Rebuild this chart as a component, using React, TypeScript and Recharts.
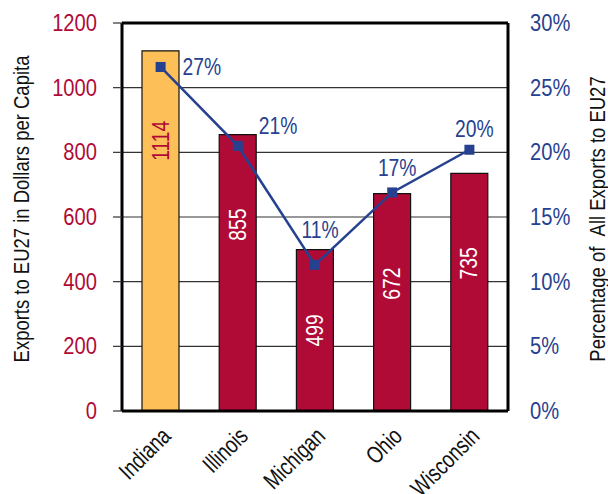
import { ComposedChart, Bar, Line, XAxis, YAxis, CartesianGrid, ReferenceLine, LabelList, Cell } from "recharts";

const states = ["Indiana", "Illinois", "Michigan", "Ohio", "Wisconsin"];
const perCapita = [1114, 855, 499, 672, 735];
const shareOfExports = [26.6, 20.5, 11.3, 16.9, 20.2];
const leftTicks = [0, 200, 400, 600, 800, 1000, 1200];
const rightTicks = [0, 5, 10, 15, 20, 25, 30];

const data = states.map((state, i) => ({ state, perCapita: perCapita[i], share: shareOfExports[i] }));

const FONT = "'Liberation Sans', Arial, sans-serif";
const SQUEEZE = 0.84;
const CRIMSON = "#B00A37";
const GOLD = "#FDBF57";
const BLUE = "#26418F";

// narrow text: Liberation Sans squeezed horizontally to look like the condensed face of the original
const NarrowText = ({ x, y, angle = 0, anchor = "middle", size, fill, squeeze = SQUEEZE, children }: any) => (
  <g transform={`translate(${x}, ${y}) rotate(${angle}) scale(${squeeze}, 1)`}>
    <text x={0} y={0} textAnchor={anchor} dominantBaseline="central" fontFamily={FONT} fontSize={size} fill={fill}>
      {children}
    </text>
  </g>
);

const CategoryTick = ({ x, y, payload }: any) => (
  <NarrowText x={x + 6} y={y + 13} angle={-45} anchor="end" size={24} squeeze={0.78} fill="#111">
    {payload.value}
  </NarrowText>
);

const LeftTick = ({ x, y, payload }: any) => (
  <NarrowText x={x} y={y} anchor="end" size={24} fill={CRIMSON}>
    {payload.value}
  </NarrowText>
);

const RightTick = ({ x, y, payload }: any) => (
  <NarrowText x={x} y={y} anchor="start" size={24} fill={BLUE}>
    {payload.value}%
  </NarrowText>
);

const LeftTitle = ({ viewBox }: any) => (
  <NarrowText x={21} y={viewBox.y + viewBox.height / 2 - 8} angle={-90} size={22} fill="#111">
    Exports to EU27 in Dollars per Capita
  </NarrowText>
);

const RightTitle = ({ viewBox }: any) => (
  <NarrowText x={597} y={viewBox.y + viewBox.height / 2 + 2} angle={-90} size={22} fill="#111">
    {"Percentage of\u00a0\u00a0All Exports to EU27"}
  </NarrowText>
);

const BarValueLabel = (props: any) => {
  const { x, y, width, height, value, index } = props;
  return (
    <NarrowText
      x={x + width / 2}
      y={y + Math.min(height / 2, 90)}
      angle={-90}
      size={23}
      fill={index === 0 ? CRIMSON : "#fff"}
    >
      {value}
    </NarrowText>
  );
};

const labelLift = [0, 20, 35, 25, 21];

const ShareLabel = (props: any) => {
  const { x, y, value, index } = props;
  const text = `${Math.round(value)}%`;
  if (index === 0) {
    return (
      <NarrowText x={x + 22} y={y} anchor="start" size={23} fill={BLUE}>
        {text}
      </NarrowText>
    );
  }
  if (index === 1) {
    return (
      <NarrowText x={x + 21} y={y - labelLift[index]} anchor="start" size={23} fill={BLUE}>
        {text}
      </NarrowText>
    );
  }
  return (
    <NarrowText x={x + 5} y={y - labelLift[index]} size={23} fill={BLUE}>
      {text}
    </NarrowText>
  );
};

const SquareDot = ({ cx, cy }: any) => <rect x={cx - 5} y={cy - 5} width={10} height={10} fill={BLUE} />;

export default function App() {
  return (
    <div style={{ position: "absolute", left: 0, top: 0, background: "#fff" }}>
      <ComposedChart width={608} height={494} data={data} margin={{ top: 23, right: 0, left: 0, bottom: 0 }}>
        <CartesianGrid vertical={false} stroke="#333" strokeWidth={1.2} yAxisId="left" />
        <XAxis
          dataKey="state"
          tick={<CategoryTick />}
          tickLine={false}
          axisLine={{ stroke: "#000", strokeWidth: 3 }}
          height={83}
          interval={0}
        />
        <YAxis
          yAxisId="left"
          domain={[0, 1200]}
          ticks={leftTicks}
          width={122}
          tickSize={9}
          tickMargin={16}
          tickLine={{ stroke: "#333", strokeWidth: 1.2 }}
          axisLine={{ stroke: "#000", strokeWidth: 3 }}
          tick={<LeftTick />}
          label={(p: any) => <LeftTitle {...p} />}
        />
        <YAxis
          yAxisId="right"
          orientation="right"
          domain={[0, 30]}
          ticks={rightTicks}
          width={100}
          tickSize={0}
          tickMargin={22}
          tickLine={false}
          axisLine={{ stroke: "#000", strokeWidth: 3 }}
          tick={<RightTick />}
          label={(p: any) => <RightTitle {...p} />}
        />
        <ReferenceLine yAxisId="left" y={1200} stroke="#000" strokeWidth={3} />
        <Bar yAxisId="left" dataKey="perCapita" barSize={37} stroke="#111" strokeWidth={1.2} isAnimationActive={false}>
          {data.map((d, i) => (
            <Cell key={d.state} fill={i === 0 ? GOLD : CRIMSON} />
          ))}
          <LabelList dataKey="perCapita" content={<BarValueLabel />} />
        </Bar>
        <Line
          yAxisId="right"
          dataKey="share"
          stroke={BLUE}
          strokeWidth={2.5}
          dot={<SquareDot />}
          activeDot={false}
          isAnimationActive={false}
        >
          <LabelList dataKey="share" content={<ShareLabel />} />
        </Line>
      </ComposedChart>
    </div>
  );
}
